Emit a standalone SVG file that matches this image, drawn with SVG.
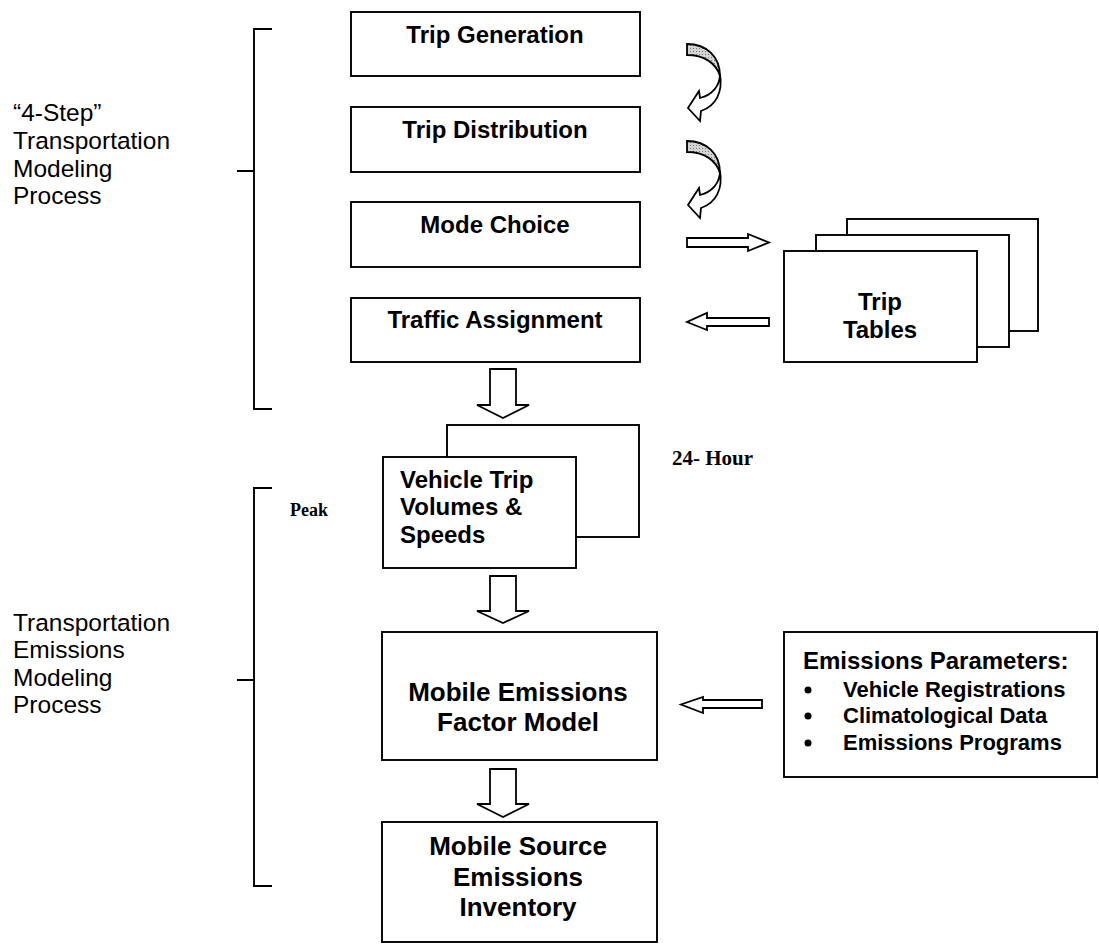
<svg xmlns="http://www.w3.org/2000/svg" width="1099" height="950" viewBox="0 0 1099 950">
<style>
.box{fill:#fff;stroke:#000;stroke-width:1.9}
.ln{fill:none;stroke:#000;stroke-width:1.9}
.arr{fill:#fff;stroke:#000;stroke-width:1.8;stroke-linejoin:miter}
.sh{fill:url(#dots);stroke:#000;stroke-width:1.8}
.t{font-family:"Liberation Sans",Arial,sans-serif;font-weight:bold;fill:#000}
.c{text-anchor:middle}
.r{font-family:"Liberation Sans",Arial,sans-serif;font-size:24.5px;fill:#000}
.tm{font-family:"Liberation Serif","Times New Roman",serif;font-weight:bold;fill:#000}
</style>
<defs>
<pattern id="dots" width="3" height="3" patternUnits="userSpaceOnUse">
<rect width="3" height="3" fill="#d4d4d4"/>
<rect width="1" height="1" fill="#777"/>
</pattern>
</defs>
<rect width="1099" height="950" fill="#fff"/>

<g id="label-4step">
<text class="r" x="13" y="121">“4-Step”</text>
<text class="r" x="13" y="149">Transportation</text>
<text class="r" x="13" y="177">Modeling</text>
<text class="r" x="13" y="204">Process</text>
<path class="ln" d="M272,29 H254 V409 H272 M237,171 H254"/>
</g>

<g id="label-emissions">
<text class="r" x="13" y="631">Transportation</text>
<text class="r" x="13" y="658">Emissions</text>
<text class="r" x="13" y="686">Modeling</text>
<text class="r" x="13" y="713">Process</text>
<path class="ln" d="M272,488 H254 V886 H272 M237,680 H254"/>
</g>

<g id="trip-generation">
<rect class="box" x="351" y="12" width="289" height="64"/>
<text class="t c" x="495" y="43" font-size="24">Trip Generation</text>
</g>
<g id="trip-distribution">
<rect class="box" x="351" y="107" width="289" height="65"/>
<text class="t c" x="495" y="138" font-size="24">Trip Distribution</text>
</g>
<g id="mode-choice">
<rect class="box" x="351" y="202" width="289" height="65"/>
<text class="t c" x="495" y="233" font-size="24">Mode Choice</text>
</g>
<g id="traffic-assignment">
<rect class="box" x="351" y="298" width="289" height="64"/>
<text class="t c" x="495" y="328" font-size="24">Traffic Assignment</text>
</g>

<g id="trip-tables">
<rect class="box" x="847" y="219" width="191" height="112"/>
<rect class="box" x="816" y="235" width="193" height="112"/>
<rect class="box" x="784" y="251" width="193" height="111"/>
<text class="t c" x="880" y="310" font-size="24">Trip</text>
<text class="t c" x="880" y="338" font-size="24">Tables</text>
</g>

<g id="vehicle-trip">
<rect class="box" x="447" y="425" width="192" height="112"/>
<rect class="box" x="383" y="457" width="193" height="111"/>
<text class="t" x="400" y="488" font-size="24">Vehicle Trip</text>
<text class="t" x="400" y="515" font-size="24">Volumes &amp;</text>
<text class="t" x="400" y="543" font-size="24">Speeds</text>
</g>
<text id="label-24hour" class="tm" x="672" y="465" font-size="21">24- Hour</text>
<text id="label-peak" class="tm" x="290" y="516" font-size="18">Peak</text>

<g id="mobile-emissions-factor-model">
<rect class="box" x="382" y="632" width="275" height="128"/>
<text class="t c" x="518" y="701" font-size="26">Mobile Emissions</text>
<text class="t c" x="518" y="731" font-size="26">Factor Model</text>
</g>

<g id="mobile-source-inventory">
<rect class="box" x="382" y="822" width="275" height="120"/>
<text class="t c" x="518" y="855" font-size="26">Mobile Source</text>
<text class="t c" x="518" y="886" font-size="26">Emissions</text>
<text class="t c" x="518" y="916" font-size="26">Inventory</text>
</g>

<g id="emissions-parameters">
<rect class="box" x="784" y="632" width="313" height="145"/>
<text class="t" x="803" y="669" font-size="24">Emissions Parameters:</text>
<circle cx="808" cy="690" r="3.5"/>
<circle cx="808" cy="716" r="3.5"/>
<circle cx="808" cy="743" r="3.5"/>
<text class="t" x="843" y="697" font-size="22">Vehicle Registrations</text>
<text class="t" x="843" y="723" font-size="22">Climatological Data</text>
<text class="t" x="843" y="750" font-size="22">Emissions Programs</text>
</g>

<g id="connectors">
<g id="curved-1">
<path class="sh" d="M687,44 C707,44 720,57 720,76 C716,63 704,55 687,55 Z"/>
<path class="arr" d="M720,74 C720,86 712,95 700,98 L699,91 L688,108 L700,121 L701,111 C716,106 723,92 720,74 Z"/>
</g>
<g id="curved-2" transform="translate(0,97)">
<path class="sh" d="M687,44 C707,44 720,57 720,76 C716,63 704,55 687,55 Z"/>
<path class="arr" d="M720,74 C720,86 712,95 700,98 L699,91 L688,108 L700,121 L701,111 C716,106 723,92 720,74 Z"/>
</g>
<polygon class="arr" points="687,238 748,238 748,234 769,242.5 748,251 748,247 687,247"/>
<polygon class="arr" points="769,318 707,318 707,313 687,322 707,330 707,326 769,326"/>
<polygon class="arr" points="490,369 516,369 516,405 529,405 503,418 477,405 490,405"/>
<polygon class="arr" points="490,576 516,576 516,611 529,611 503,623 477,611 490,611"/>
<polygon class="arr" points="490,769 516,769 516,804 529,804 503,817 477,804 490,804"/>
<polygon class="arr" points="762,700 703,700 703,697 681,704.5 703,713 703,708 762,708"/>
</g>
</svg>
